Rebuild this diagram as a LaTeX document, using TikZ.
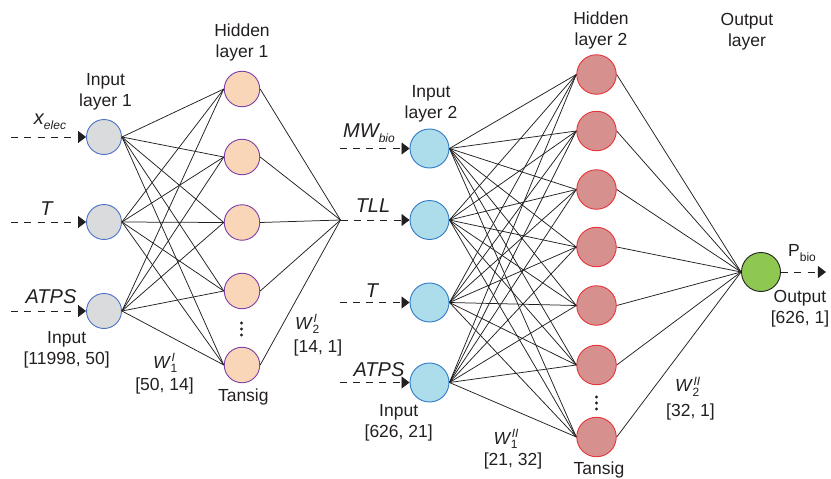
\documentclass[tikz,border=0pt]{standalone}
\usepackage{fontspec}
\setmainfont{Liberation Sans}
\usepackage{tikz}
\usetikzlibrary{arrows.meta}
\usetikzlibrary{positioning}
\definecolor{inAfill}	{HTML}	{D9DBDC}
\definecolor{inAline}	{HTML}	{4A72C2}
\definecolor{hidAfill}	{HTML}	{FAD6B8}
\definecolor{hidAline}	{HTML}	{7A3FA8}
\definecolor{inBfill}	{HTML}	{ADDCEB}
\definecolor{inBline}	{HTML}	{2E7BC9}
\definecolor{hidBfill}	{HTML}	{D6918E}
\definecolor{hidBline}	{HTML}	{E8323A}
\definecolor{outfill}	{HTML}	{8FC851}
\definecolor{ink}	{HTML}	{231F20}
\newcommand{\subsize}{\fontsize{12}{12}\selectfont}
\newcommand{\varsub}[1]{\raisebox{-5pt}{\subsize #1}}
\newcommand{\wlab}[2]{\textit{W}\rlap{\kern0.5pt\raisebox{6.5pt}{\subsize\textit{#2}}}\kern-0.5pt\raisebox{-4.5pt}{\subsize #1}}

\begin{document}
\begin{tikzpicture}[x=1pt, y=-1pt, every node/.append style={inner sep=0pt, text=ink},
  neuron/.style={circle, line width=0.9pt},
  inone/.style={neuron, draw=inAline, fill=inAfill, minimum size=35pt},
  hidone/.style={neuron, draw=hidAline, fill=hidAfill, minimum size=35.5pt},
  intwo/.style={neuron, draw=inBline, fill=inBfill, minimum size=39pt},
  hidtwo/.style={neuron, draw=hidBline, fill=hidBfill, minimum size=39.5pt},
  outnode/.style={neuron, draw=ink, fill=outfill, minimum size=39pt},
  wire/.style={draw=ink, line width=0.75pt},
  feed/.style={draw=ink, line width=0.85pt, dash pattern=on 7pt off 6.3pt,
               -{Triangle[length=8pt,width=12pt]}},
  lbl/.style={font=\fontsize{17.5}{21}\selectfont, align=center},
  var/.style={font=\fontsize{20}{24}\selectfont\itshape, anchor=base}
  ]
  \useasboundingbox (0,0) rectangle (831,479);

  % network 1
  \node (inA1) [inone] at (104,137) {};
  \node (inA2) [inone] at (104,222) {};
  \node (inA3) [inone] at (104,311) {};
  \node (hidA1) [hidone] at (242,89) {};
  \node (hidA2) [hidone] at (242,157) {};
  \node (hidA3) [hidone] at (242,222.5) {};
  \node (hidA4) [hidone] at (242,291) {};
  \node (hidA5) [hidone] at (242,365) {};
  \coordinate (dotsA) at (241.5,329);
  \coordinate (sum) at (340.5,220);
  \coordinate [left=75pt of inA1] (srcA1);
  \coordinate [left=75pt of inA2] (srcA2);
  \coordinate [left=75pt of inA3] (srcA3);

  % network 2
  \node (inB1) [intwo] at (429.5,148.5) {};
  \node (inB2) [intwo] at (429.5,220) {};
  \node (inB3) [intwo] at (429.5,302.5) {};
  \node (inB4) [intwo] at (429.5,382.5) {};
  \node (hidB1) [hidtwo] at (596.5,74.5) {};
  \node (hidB2) [hidtwo] at (596.5,131) {};
  \node (hidB3) [hidtwo] at (596.5,189.5) {};
  \node (hidB4) [hidtwo] at (596.5,247) {};
  \node (hidB5) [hidtwo] at (596.5,305.5) {};
  \node (hidB6) [hidtwo] at (596.5,365) {};
  \node (hidB7) [hidtwo] at (596.5,437) {};
  \node (out) [outnode] at (761,272) {};
  \coordinate (dotsB) at (596.5,403);
  \coordinate [left=70pt of inB1] (srcB1);
  \coordinate [left=70pt of inB3] (srcB3);
  \coordinate [left=70pt of inB4] (srcB4);
  \coordinate [right=45pt of out] (sink);

  % connections
  \foreach \i in {1,2,3}
    \foreach \j in {1,...,5}
      \draw[wire] (inA\i.east) -- (hidA\j.west);
  \foreach \j in {1,...,5}
    \draw[wire] (hidA\j.east) -- (sum);
  \foreach \i in {1,...,4}
    \foreach \j in {1,...,7}
      \draw[wire] (inB\i.east) -- (hidB\j.west);
  \foreach \j in {1,...,7}
    \draw[wire] (hidB\j.east) -- (out.west);

  \draw[feed] (srcA1) -- (inA1);
  \draw[feed] (srcA2) -- (inA2);
  \draw[feed] (srcA3) -- (inA3);
  \draw[feed] (srcB1) -- (inB1);
  \draw[feed] (sum) -- (inB2);
  \draw[feed] (srcB3) -- (inB3);
  \draw[feed] (srcB4) -- (inB4);
  \draw[feed] (out) -- (sink);

  \foreach \dy in {-6,0,6} {
    \fill[ink] (dotsA) ++(0,\dy) circle (1.6pt);
    \fill[ink] (dotsB) ++(0,\dy) circle (1.6pt);
  }

  % labels
  \node (ttlInA) [lbl] at (105.5,91.5) {Input\\layer 1};
  \node (ttlHidA) [lbl] at (242,42.5) {Hidden\\layer 1};
  \node (ttlInB) [lbl] at (431,103.5) {Input\\layer 2};
  \node (ttlHidB) [lbl] at (601,30) {Hidden\\layer 2};
  \node (ttlOut) [lbl] at (747,32) {Output\\layer};

  \node (vXelec) [var] at (50,124) {x\varsub{elec}};
  \node (vTA) [var] at (46.5,215) {T};
  \node (vAtpsA) [var] at (51,303) {ATPS};
  \node (vMw) [var] at (369,137) {MW\varsub{bio}};
  \node (vTll) [var] at (373,212) {TLL};
  \node (vTB) [var] at (372,297) {T};
  \node (vAtpsB) [var] at (379,376.5) {ATPS};

  \node (szInA) [lbl] at (66.7,349.3) {Input\\{}[11998, 50]};
  \node (tanA) [lbl] at (243.3,397) {Tansig};
  \node (wA1) [lbl, anchor=base west] at (153,368.3) {\wlab{1}{I}};
  \node (szA1) [lbl] at (164.5,385.7) {[50, 14]};
  \node (wA2) [lbl, anchor=base west] at (295,329.3) {\wlab{2}{I}};
  \node (szA2) [lbl] at (318,348) {[14, 1]};

  \node (szInB) [lbl] at (398.7,422.5) {Input\\{}[626, 21]};
  \node (tanB) [lbl] at (599,470) {Tansig};
  \node (wB1) [lbl, anchor=base west] at (493.3,444) {\wlab{1}{II}};
  \node (szB1) [lbl] at (513,460.7) {[21, 32]};
  \node (wB2) [lbl, anchor=base west] at (675,391.7) {\wlab{2}{II}};
  \node (szB2) [lbl] at (690.5,411.7) {[32, 1]};
  \node (pBio) [lbl, anchor=base west] at (788,256.7) {P\varsub{bio}};
  \node (szOut) [lbl] at (800,308.3) {Output\\{}[626, 1]};
\end{tikzpicture}
\end{document}
